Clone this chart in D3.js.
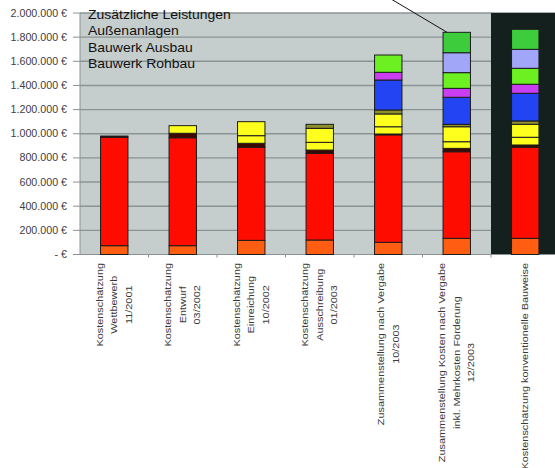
<!DOCTYPE html>
<html>
<head>
<meta charset="utf-8">
<script src="https://cdn.jsdelivr.net/npm/d3@7"></script>
<style>
  html, body { margin: 0; padding: 0; background: #fff; }
  svg { display: block; font-family: "Liberation Sans", Arial, sans-serif; }
</style>
</head>
<body>
<svg id="chart" width="555" height="468"></svg>
<script>
// Kostenentwicklung: stacked cost groups per estimate stage (values in €)
const categories = [
  ["Kostenschätzung", "Wettbewerb", "11/2001"],
  ["Kostenschätzung", "Entwurf", "03/2002"],
  ["Kostenschätzung", "Einreichung", "10/2002"],
  ["Kostenschätzung", "Ausschreibung", "01/2003"],
  ["Zusammenstellung nach Vergabe", "10/2003"],
  ["Zusammenstellung Kosten nach Vergabe", "inkl. Mehrkosten Förderung", "12/2003"],
  ["Kostenschätzung konventionelle Bauweise"]
];

const seg1  = [73000, 73000, 117000, 120000, 101000, 134000, 134000];
const seg2  = [898000, 894000, 771000, 718000, 890000, 717000, 754000];
const seg3  = [10000, 37000, 33000, 27000, 7000, 28000, 19000];
const seg4  = [0, 63000, 63000, 64000, 60000, 55000, 64000];
const seg5  = [0, 0, 116000, 116000, 106000, 124000, 107000];
const seg6  = [0, 0, 0, 33000, 33000, 20000, 28000];
const seg7  = [0, 0, 0, 0, 248000, 224000, 229000];
const seg8  = [0, 0, 0, 0, 64000, 74000, 75000];
const seg9  = [0, 0, 0, 0, 143000, 130000, 132000];
const seg10 = [0, 0, 0, 0, 0, 165000, 157000];
const seg11 = [0, 0, 0, 0, 0, 169000, 166000];

const seriesValues = [seg1, seg2, seg3, seg4, seg5, seg6, seg7, seg8, seg9, seg10, seg11];
const seriesColors = ["#ff5e12", "#ff0c00", "#3e0800", "#ffff1e", "#ffff1e", "#8f8f2c",
                      "#2244f2", "#c83ef0", "#6cf022", "#a2a6f8", "#3ccc3c"];

const yTicks = [0, 200000, 400000, 600000, 800000, 1000000, 1200000, 1400000, 1600000, 1800000, 2000000];

const notes = ["Zusätzliche Leistungen", "Außenanlagen", "Bauwerk Ausbau", "Bauwerk Rohbau"];

// ---- layout ----
const svg = d3.select("#chart");
const plotLeft = 80, plotRight = 559.5, plotTop = 13, plotBottom = 254.5;

const keys = seriesValues.map((_, i) => "s" + i);
const rows = categories.map((c, ci) => {
  const r = { cat: ci };
  keys.forEach((k, si) => r[k] = seriesValues[si][ci]);
  return r;
});

const x = d3.scaleBand()
  .domain(d3.range(categories.length))
  .range([plotLeft, plotRight])
  .paddingInner(0.6)
  .paddingOuter(0.3);

const y = d3.scaleLinear().domain([0, 2000000]).range([plotBottom, plotTop]);

const step = x.step();
const bandStart = i => x(i) - step * x.paddingInner() / 2;

// plot background
svg.append("rect")
  .attr("x", plotLeft).attr("y", plotTop)
  .attr("width", plotRight - plotLeft).attr("height", plotBottom - plotTop)
  .attr("fill", "#c5cdcd");

// gridlines
svg.append("g").selectAll("line").data(yTicks.filter(d => d > 0)).join("line")
  .attr("x1", plotLeft).attr("x2", plotRight)
  .attr("y1", d => y(d)).attr("y2", d => y(d))
  .attr("stroke", "#8a9494").attr("stroke-width", 1.4);

// dark panel behind the conventional construction comparison
const last = categories.length - 1;
svg.append("rect")
  .attr("x", bandStart(last)).attr("y", plotTop)
  .attr("width", step).attr("height", plotBottom - plotTop)
  .attr("fill", "#14201e");

// y axis
const de = d3.formatLocale({ decimal: ",", thousands: ".", grouping: [3], currency: ["", " €"] });
const fmt = v => v === 0 ? "- €" : de.format(",.0f")(v) + " €";

const yAxis = svg.append("g");
yAxis.append("line")
  .attr("x1", plotLeft).attr("x2", plotLeft)
  .attr("y1", plotTop).attr("y2", plotBottom)
  .attr("stroke", "#8a9292").attr("stroke-width", 1);
yAxis.selectAll("line.tick").data(yTicks).join("line")
  .attr("class", "tick")
  .attr("x1", plotLeft - 7).attr("x2", plotLeft)
  .attr("y1", d => y(d)).attr("y2", d => y(d))
  .attr("stroke", "#8a9292").attr("stroke-width", 1);
yAxis.selectAll("text").data(yTicks).join("text")
  .attr("transform", d => `translate(67,${y(d)}) scale(1.07,1)`)
  .attr("dy", "0.35em")
  .attr("text-anchor", "end")
  .attr("font-size", 10)
  .attr("fill", "#404040")
  .text(fmt);

// x axis
const xAxis = svg.append("g");
xAxis.append("line")
  .attr("x1", plotLeft).attr("x2", plotRight)
  .attr("y1", plotBottom).attr("y2", plotBottom)
  .attr("stroke", "#8a9292").attr("stroke-width", 1);
xAxis.selectAll("line.tick").data(d3.range(1, categories.length)).join("line")
  .attr("class", "tick")
  .attr("x1", i => bandStart(i)).attr("x2", i => bandStart(i))
  .attr("y1", plotBottom).attr("y2", plotBottom + 3)
  .attr("stroke", "#8a9292");

// stacked bars
const stacked = d3.stack().keys(keys)(rows);
svg.append("g").selectAll("g").data(stacked).join("g")
  .attr("fill", (d, i) => seriesColors[i])
  .selectAll("rect").data(d => d.filter(s => s[1] - s[0] > 0)).join("rect")
  .attr("x", d => x(d.data.cat))
  .attr("width", x.bandwidth())
  .attr("y", d => y(d[1]))
  .attr("height", d => y(d[0]) - y(d[1]))
  .attr("stroke", "#1c1c1c")
  .attr("stroke-width", 1);

// category labels (rotated, multi-line, centred)
const labelTop = plotBottom + 8.5;
const lineGap = 14.5;
categories.forEach((lines, ci) => {
  const cx = x(ci) + x.bandwidth() / 2;
  const g = svg.append("g");
  const texts = g.selectAll("text").data(lines).join("text")
    .attr("font-size", 10.9)
    .attr("fill", "#3a3a3a")
    .attr("text-anchor", "middle")
    .attr("dy", "0.35em")
    .text(d => d);
  let maxLen = 0;
  texts.each(function () { maxLen = Math.max(maxLen, this.getComputedTextLength()); });
  texts.attr("transform", (d, i) => {
    const lx = cx + (i - (lines.length - 1) / 2) * lineGap;
    return `translate(${lx},${labelTop + maxLen / 2}) rotate(-90) scale(1,0.85)`;
  });
});

// group names in the upper left
svg.append("g").selectAll("text").data(notes).join("text")
  .attr("transform", (d, i) => `translate(${plotLeft + 8},${18.5 + i * 16.6}) scale(1.075,1)`)
  .attr("font-size", 13)
  .attr("fill", "#111")
  .text(d => d);

// leader line to the top of the stage after award incl. subsidy extras
const leadIdx = 5;
const leadTotal = d3.sum(seriesValues, s => s[leadIdx]);
const tipX = x(leadIdx) + 4, tipY = y(leadTotal);
svg.append("line")
  .attr("x1", tipX - 56).attr("y1", -1)
  .attr("x2", tipX).attr("y2", tipY)
  .attr("stroke", "#111").attr("stroke-width", 1);
</script>
</body>
</html>
